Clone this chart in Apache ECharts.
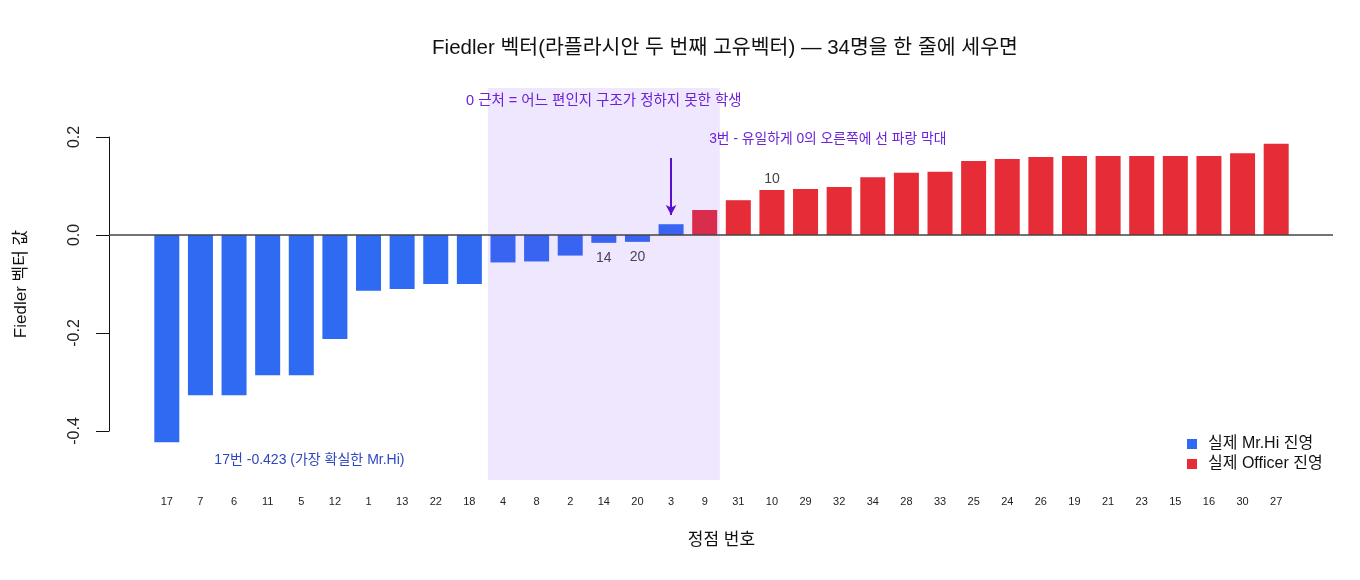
<!DOCTYPE html>
<html><head><meta charset="utf-8">
<script src="https://cdn.jsdelivr.net/npm/echarts@6/dist/echarts.min.js"></script>
<style>html,body{margin:0;padding:0;background:#fff}#c{width:1360px;height:580px}</style>
</head><body><div id="c"></div>
<script>
const nodes = ['17','7','6','11','5','12','1','13','22','18','4','8','2','14','20','3','9','31','10','29','32','34','28','33','25','24','26','19','21','23','15','16','30','27'];
const fiedler = [-0.423,-0.327,-0.327,-0.286,-0.286,-0.212,-0.114,-0.110,-0.100,-0.100,-0.056,-0.054,-0.042,-0.016,-0.014,0.022,0.051,0.071,0.092,0.094,0.098,0.118,0.127,0.129,0.151,0.155,0.159,0.161,0.161,0.161,0.161,0.161,0.167,0.186];
const faction = ['H','H','H','H','H','H','H','H','H','H','H','H','H','H','H','H','O','O','O','O','O','O','O','O','O','O','O','O','O','O','O','O','O','O'];
const labelledUp = ['10'];
const labelledDown = ['14','20'];
const yTicks = [-0.4, -0.2, 0.0, 0.2];
const shadeFrom = '4', shadeTo = '9', shadeHalf = 0.45;
const arrowNode = '3', arrowFrom = 0.157, arrowTo = 0.041;
const note3Node = '9', note3Y = 0.196;
const note17X = 1.4, note17Y = -0.459;

const FONT = "'Liberation Sans','Noto Sans CJK KR',sans-serif";
const BLUE = '#2f6af2', RED = '#e62c37';

function seriesData(grp) {
  return fiedler.map((v, i) => {
    if (faction[i] !== grp) return '-';
    const n = nodes[i];
    if (labelledUp.includes(n)) return {value: v, label: {show: true, position: 'top', distance: 4, formatter: n, color: '#444', fontSize: 14, fontFamily: FONT}};
    if (labelledDown.includes(n)) return {value: v, label: {show: true, position: 'bottom', distance: 8, formatter: n, color: '#444', fontSize: 14, fontFamily: FONT}};
    return v;
  });
}
const idx = n => nodes.indexOf(n);

const chart = echarts.init(document.getElementById('c'));
chart.setOption({
  animation: false,
  textStyle: {fontFamily: FONT},
  title: {
    text: 'Fiedler 벡터(라플라시안 두 번째 고유벡터) — 34명을 한 줄에 세우면',
    left: 720, top: 33, textAlign: 'center',
    textStyle: {fontSize: 20.5, fontWeight: 'normal', color: '#111', fontFamily: FONT}
  },
  legend: {
    orient: 'vertical', left: 1182, top: 431, itemWidth: 10, itemHeight: 10, itemGap: 4,
    icon: 'rect', data: ['실제 Mr.Hi 진영', '실제 Officer 진영'],
    textStyle: {fontSize: 16, color: '#111', fontFamily: FONT, padding: [0, 0, 0, 6]}
  },
  grid: [
    {left: 150, right: 67, top: 88, bottom: 100},
    {left: 109, right: 27, top: 137, bottom: 149}
  ],
  xAxis: [
    {type: 'category', gridIndex: 0, data: nodes, axisLine: {show: false}, axisTick: {show: false},
     axisLabel: {fontSize: 11, color: '#222', margin: 16, interval: 0, fontFamily: FONT},
     name: '정점 번호', nameLocation: 'middle', nameGap: 52,
     nameTextStyle: {fontSize: 17, color: '#111', fontFamily: FONT}},
    {type: 'value', gridIndex: 1, min: 0, max: 1, show: false},
    {type: 'value', gridIndex: 0, min: -0.5, max: nodes.length - 0.5, show: false}
  ],
  yAxis: [
    {type: 'value', gridIndex: 0, min: -0.5, max: 0.3, show: false},
    {type: 'value', gridIndex: 1, min: -0.4, max: 0.2, interval: 0.2,
     axisLine: {show: true, lineStyle: {color: '#111', width: 1}},
     axisTick: {show: true, length: 13, lineStyle: {color: '#111'}},
     splitLine: {show: false},
     axisLabel: {rotate: 90, fontSize: 16, color: '#222', margin: 26, fontFamily: FONT,
       formatter: v => yTicks.some(t => Math.abs(t - v) < 1e-9) ? v.toFixed(1) : ''},
     name: 'Fiedler 벡터 값', nameLocation: 'middle', nameRotate: 90, nameGap: 79,
     nameTextStyle: {fontSize: 17, color: '#111', fontFamily: FONT}}
  ],
  series: [
    {name: '실제 Mr.Hi 진영', type: 'bar', xAxisIndex: 0, yAxisIndex: 0, barWidth: 25, barGap: '-100%',
     itemStyle: {color: BLUE}, data: seriesData('H'), z: 2},
    {name: '실제 Officer 진영', type: 'bar', xAxisIndex: 0, yAxisIndex: 0, barWidth: 25, barGap: '-100%',
     itemStyle: {color: RED}, data: seriesData('O'), z: 2},
    {name: 'zero', type: 'line', xAxisIndex: 1, yAxisIndex: 1, data: [[0, 0], [1, 0]], symbol: 'none',
     lineStyle: {color: '#444', width: 1.5}, z: 4, silent: true},
    {name: 'notes', type: 'line', xAxisIndex: 2, yAxisIndex: 0, data: [], symbol: 'none', z: 5, silent: true,
     markArea: {silent: true, z: 3, itemStyle: {color: 'rgba(124,58,237,0.12)'},
       label: {show: true, position: 'insideTop', distance: 6, color: '#6b22d9', fontSize: 14.5, fontFamily: FONT},
       data: [[{xAxis: idx(shadeFrom) - shadeHalf, yAxis: 0.3, name: '0 근처 = 어느 편인지 구조가 정하지 못한 학생'},
               {xAxis: idx(shadeTo) + shadeHalf, yAxis: -0.5}]]},
     markLine: {silent: true, symbol: ['none', 'arrow'], symbolSize: [8, 10], label: {show: false},
       lineStyle: {color: '#5a0fd0', width: 2, type: 'solid'},
       data: [[{coord: [idx(arrowNode), arrowFrom]}, {coord: [idx(arrowNode), arrowTo]}]]},
     markPoint: {silent: true, symbol: 'circle', symbolSize: 1, itemStyle: {color: 'rgba(0,0,0,0)'},
       data: [
         {coord: [idx(note3Node), note3Y], label: {show: true, position: 'right', distance: 4, formatter: '3번 - 유일하게 0의 오른쪽에 선 파랑 막대', color: '#6b22d9', fontSize: 13.8, fontFamily: FONT}},
         {coord: [note17X, note17Y], label: {show: true, position: 'right', distance: 0, formatter: '17번 -0.423 (가장 확실한 Mr.Hi)', color: '#2f47c0', fontSize: 14, fontFamily: FONT}}
       ]}
    }
  ]
});
</script>
</body></html>
